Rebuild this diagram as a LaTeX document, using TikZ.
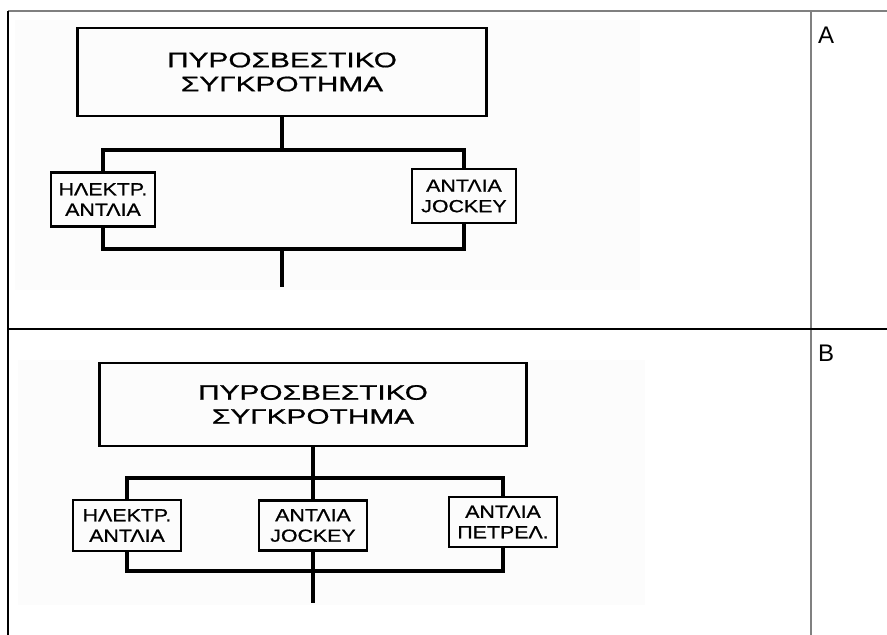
\documentclass[tikz,border=0pt]{standalone}
\usepackage{fontspec}
\setmainfont{Liberation Sans}
\newfontfamily\scanbig[FakeStretch=1.42,FakeBold=0.8]{Liberation Sans}
\newfontfamily\scansmall[FakeStretch=1.22,FakeBold=0.8]{Liberation Sans}
\definecolor{rulegray}{HTML}{808080}
\definecolor{scanbg}{HTML}{FCFCFC}

\begin{document}
\begin{tikzpicture}[x=1pt,y=-1pt,
    mainbox/.style={draw,line width=2.4pt,minimum width=409pt,minimum height=88pt,align=center,inner sep=0pt,font=\scanbig\fontsize{21}{24}\selectfont},
    pumpbox/.style={draw,line width=2.4pt,minimum width=104pt,minimum height=54pt,align=center,inner sep=0pt,font=\scansmall\fontsize{17.5}{20.5}\selectfont},
    pipe/.style={line width=3.2pt},
    rowlabel/.style={anchor=base west,inner sep=0pt,font=\fontsize{24}{28}\selectfont}]
        \useasboundingbox (0,0) rectangle (887,635);
        \fill[white] (0,0) rectangle (887,635);
        \fill[scanbg] (15,20) rectangle (640,290); \fill[scanbg] (18,360) rectangle (645,605);
        \draw[color=rulegray, line width=1.4pt] (8,11) -- (887,11); \draw[color=rulegray, line width=1.4pt] (811,11) -- (811,635);
        \draw[line width=1.4pt] (8,11) -- (8,635); \draw[line width=1.4pt] (8,329) -- (887,329);
        \node[rowlabel] (labA) at (818,43) {A};
        \node[rowlabel] (labB) at (818,361) {B};
        % A
        \node[mainbox] (aMain) at (282,72) {ΠΥΡΟΣΒΕΣΤΙΚΟ\\ΣΥΓΚΡΟΤΗΜΑ};
        \node[pumpbox] (aElec) at (103,199.5) {ΗΛΕΚΤΡ.\\ΑΝΤΛΙΑ};
        \node[pumpbox] (aJock) at (464,196) {ΑΝΤΛΙΑ\\JOCKEY};
        \coordinate (aTop) at (282,150); \coordinate (aBot) at (282,249); \coordinate (aOut) at (282,287);
        \draw[pipe] (aMain) -- (aTop); \draw[pipe] (aElec) |- (aTop) -| (aJock); \draw[pipe] (aElec) |- (aBot) -| (aJock); \draw[pipe] (aBot) -- (aOut);
        % B
        \node[mainbox, minimum width=427pt, minimum height=83pt] (bMain) at (313,404.5) {ΠΥΡΟΣΒΕΣΤΙΚΟ\\ΣΥΓΚΡΟΤΗΜΑ};
        \node[pumpbox, minimum width=108pt, minimum height=51pt] (bElec) at (127,525.5) {ΗΛΕΚΤΡ.\\ΑΝΤΛΙΑ};
        \node[pumpbox, minimum width=108pt, minimum height=50pt] (bJock) at (313,525.5) {ΑΝΤΛΙΑ\\JOCKEY};
        \node[pumpbox, minimum width=108pt, minimum height=50pt] (bDies) at (503,522) {ΑΝΤΛΙΑ\\ΠΕΤΡΕΛ.};
        \coordinate (bTop) at (313,478); \coordinate (bBot) at (313,571); \coordinate (bOut) at (313,603);
        \draw[pipe] (bMain) -- (bJock); \draw[pipe] (bElec) |- (bTop) -| (bDies); \draw[pipe] (bElec) |- (bBot) -| (bDies); \draw[pipe] (bJock) -- (bOut);
\end{tikzpicture}
\end{document}
